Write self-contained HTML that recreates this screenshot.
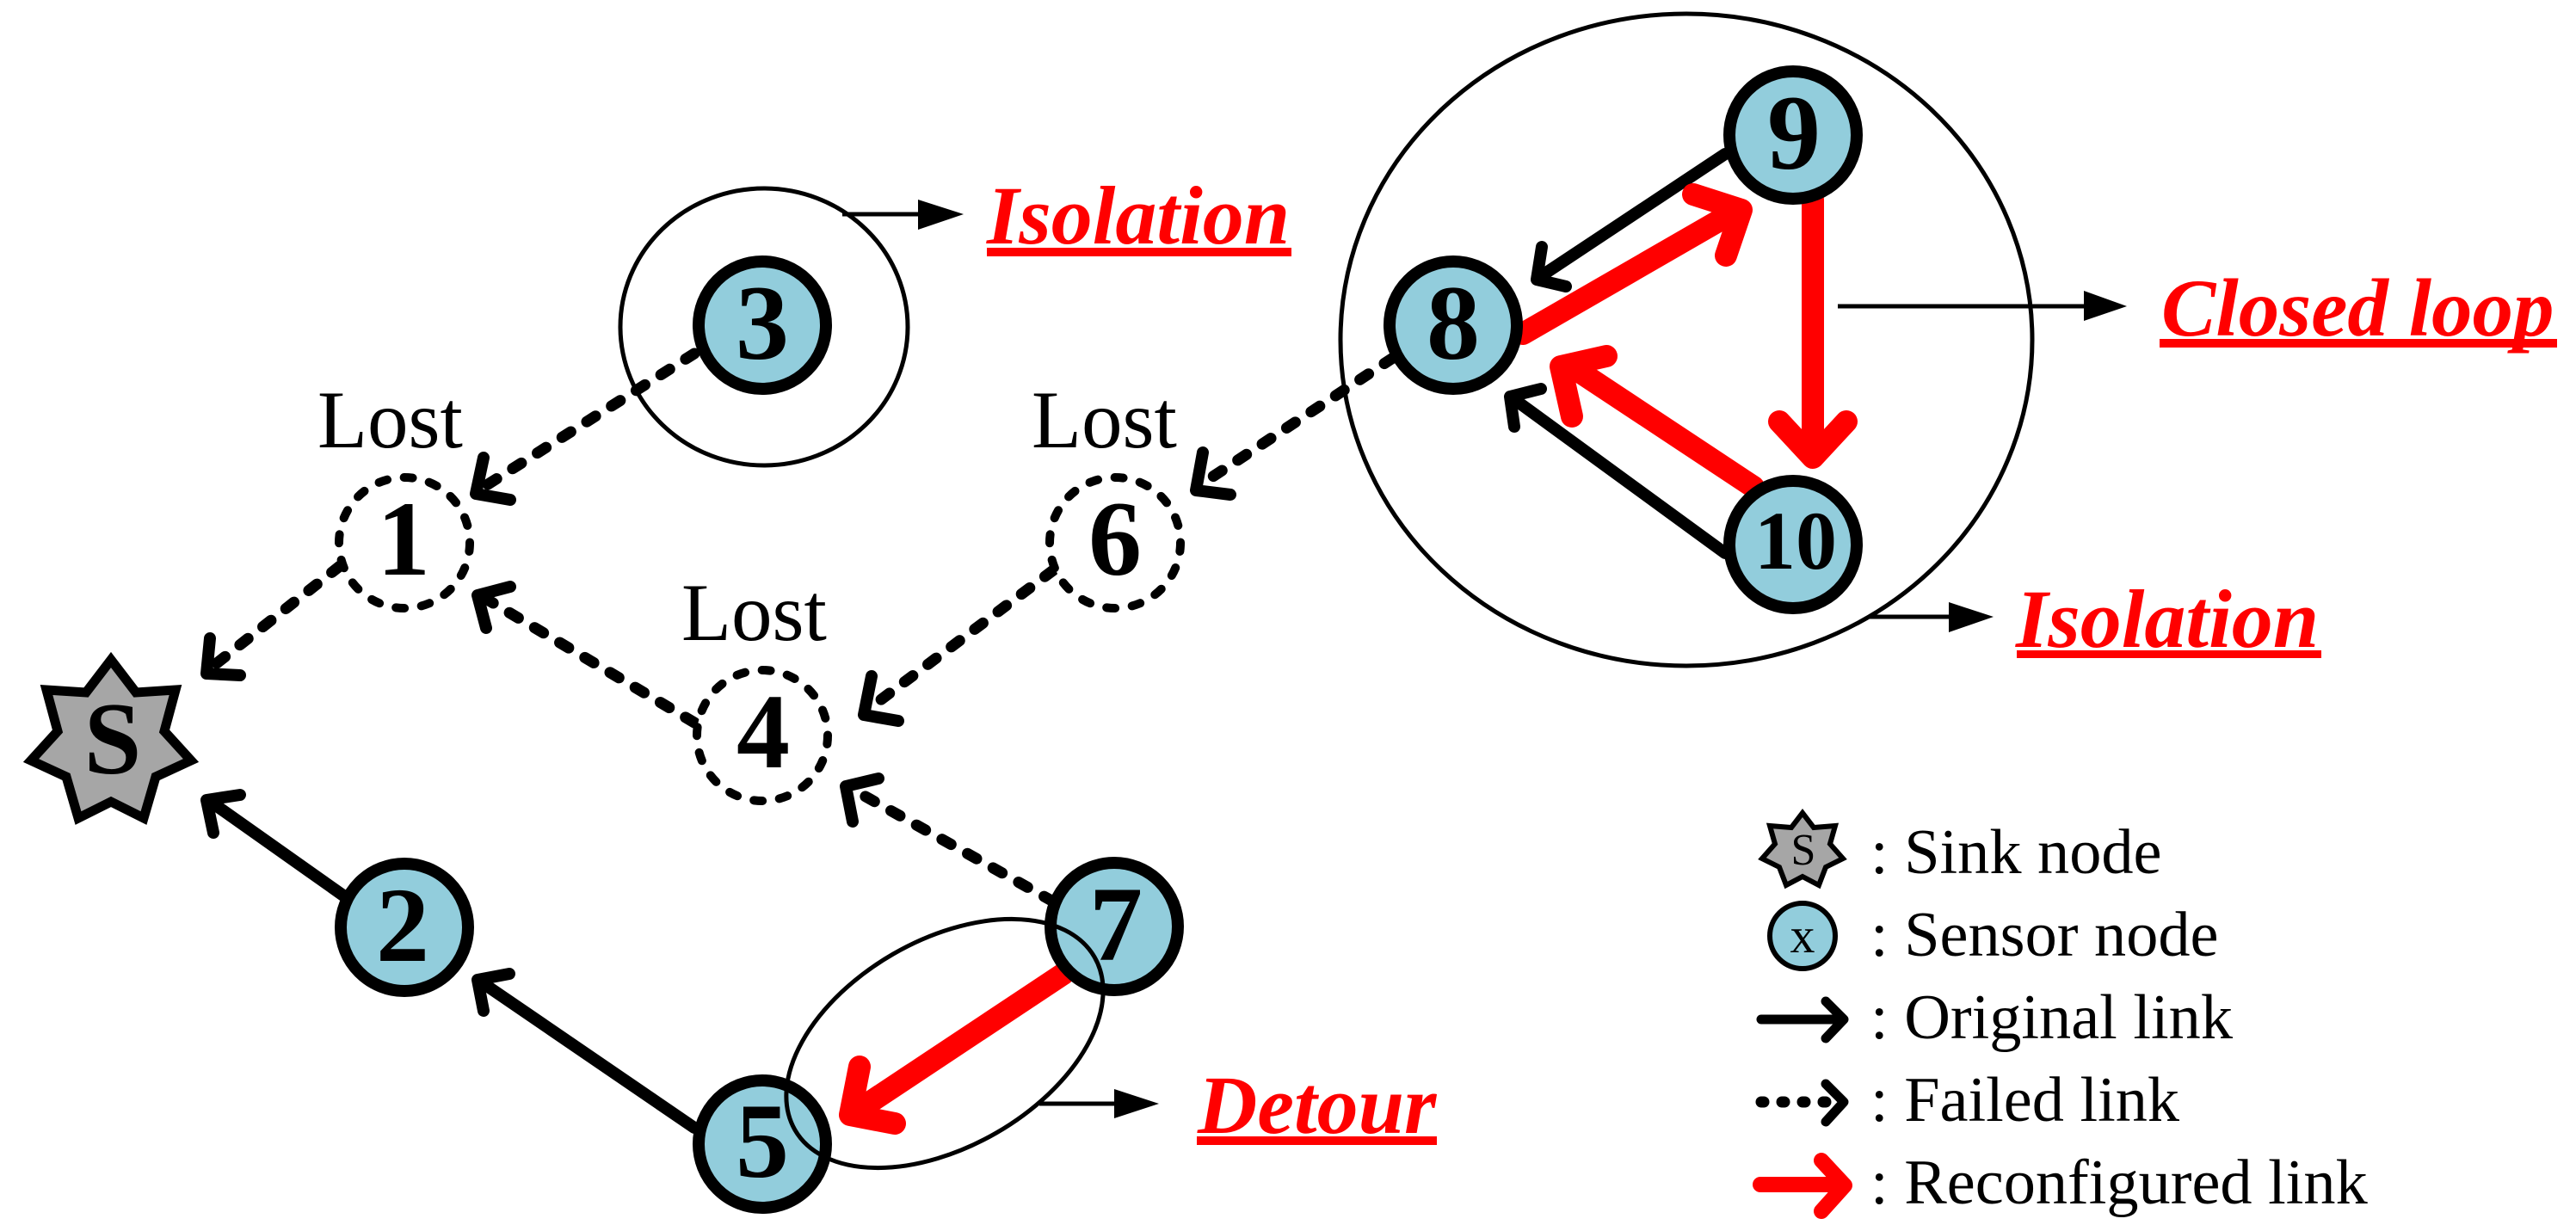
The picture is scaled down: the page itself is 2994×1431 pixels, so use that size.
<!DOCTYPE html>
<html><head><meta charset="utf-8"><title>Network diagram</title>
<style>
html,body{margin:0;padding:0;background:#fff}
svg{display:block}
.n{font:bold 124px "Liberation Serif",serif;text-anchor:middle;fill:#000}
.lost{font:95px "Liberation Serif",serif;fill:#000}
.lab{font:italic bold 96px "Liberation Serif",serif;fill:#f00}
.leg{font:74.3px "Liberation Serif",serif;fill:#000}
.ln{fill:none;stroke:#000;stroke-linecap:round;stroke-linejoin:round}
.b{stroke-width:14}
.d{stroke-width:13;stroke-dasharray:12 22}
.r{fill:none;stroke:#f00;stroke-linecap:round;stroke-linejoin:round;stroke-width:26}
.node{fill:#92CDDC;stroke:#000;stroke-width:14}
.dash{fill:#fff;stroke:#000;stroke-width:10;stroke-dasharray:10 19.8;stroke-linecap:round}
.thin{fill:none;stroke:#000;stroke-width:5}
.ptr{fill:none;stroke:#000;stroke-width:5}
</style></head>
<body>
<svg xmlns="http://www.w3.org/2000/svg" width="2994" height="1431" viewBox="0 0 2994 1431">
<rect width="2994" height="1431" fill="#fff"/>

<!-- big enclosing circles -->
<ellipse class="thin" cx="1960" cy="395" rx="402" ry="379"/>
<ellipse class="thin" cx="888" cy="380" rx="167" ry="161"/>

<!-- failed links -->
<g class="ln d">
<line x1="807" y1="411" x2="556" y2="570"/>
<line x1="395" y1="658" x2="243" y2="778"/>
<line x1="807" y1="840" x2="558" y2="692"/>
<line x1="1224" y1="663" x2="1007" y2="826"/>
<line x1="1619" y1="416" x2="1393" y2="565"/>
<line x1="1224" y1="1048" x2="990" y2="917"/>
</g>
<g class="ln" style="stroke-width:14">
<polyline points="562,532 553,574 593,581"/>
<polyline points="244,742 240,783 279,785"/>
<polyline points="593,682 555,692 565,730"/>
<polyline points="1013,786 1004,831 1044,838"/>
<polyline points="1398,526 1390,570 1430,575"/>
<polyline points="1021,905 983,914 991,955"/>
</g>

<!-- original links -->
<g class="ln b">
<line x1="399" y1="1041" x2="242" y2="930"/>
<polyline points="279,924 240,930 248,968"/>
<line x1="807" y1="1311" x2="557" y2="1140"/>
<polyline points="592,1132 555,1139 562,1175"/>
<line x1="2005" y1="179" x2="1788" y2="323"/>
<polyline points="1792,287 1786,325 1820,333"/>
<line x1="2005" y1="643" x2="1757" y2="462"/>
<polyline points="1791,452 1755,461 1760,496"/>
</g>

<!-- reconfigured links -->
<g class="r">
<line x1="1770" y1="388" x2="2018" y2="245"/>
<polyline points="1968,226 2024,244 2006,297"/>
<line x1="2107" y1="232" x2="2107" y2="530"/>
<polyline points="2068,490 2107,532 2146,490"/>
<line x1="2038" y1="566" x2="1825" y2="425"/>
<polyline points="1867,414 1814,426 1827,484"/>
<line x1="1236" y1="1132" x2="995" y2="1292"/>
<polyline points="999,1240 988,1296 1040,1306"/>
</g>

<!-- S star -->
<polygon points="129,767 158,805 204,802 191,850 222,884 181,903 167,951 129,932 91,951 77,903 36,884 67,850 54,802 100,805" fill="#A6A6A6" stroke="#000" stroke-width="11" stroke-linejoin="miter" stroke-miterlimit="4"/>
<text class="n" x="131" y="899" style="font-size:120px">S</text>

<!-- dashed lost nodes -->
<circle class="dash" cx="470" cy="631" r="76"/>
<circle class="dash" cx="886" cy="855" r="76"/>
<circle class="dash" cx="1296" cy="631" r="76"/>
<text class="n" x="469" y="668">1</text>
<text class="n" x="887" y="892">4</text>
<text class="n" x="1296" y="668">6</text>

<!-- sensor nodes -->
<circle class="node" cx="470" cy="1078" r="74"/>
<circle class="node" cx="886" cy="378" r="74"/>
<circle class="node" cx="886" cy="1330" r="74"/>
<circle class="node" cx="1295" cy="1077" r="74"/>
<circle class="node" cx="1689" cy="378" r="74"/>
<circle class="node" cx="2084" cy="157" r="74"/>
<circle class="node" cx="2084" cy="633" r="74"/>
<text class="n" x="468" y="1117">2</text>
<text class="n" x="886" y="417">3</text>
<text class="n" x="886" y="1368">5</text>
<text class="n" x="1297" y="1116">7</text>
<text class="n" x="1689" y="417">8</text>
<text class="n" x="2085" y="196">9</text>
<text class="n" x="2087" y="661" style="font-size:96px">10</text>

<!-- detour ellipse -->
<ellipse class="thin" cx="1098" cy="1213" rx="201" ry="120" transform="rotate(-30 1098 1213)"/>

<!-- Lost labels -->
<text class="lost" x="369" y="520">Lost</text>
<text class="lost" x="1199" y="520">Lost</text>
<text class="lost" x="792" y="744">Lost</text>

<!-- pointers -->
<line class="ptr" x1="979" y1="249" x2="1070" y2="249"/>
<polygon points="1067,232 1120,249 1067,267" fill="#000"/>
<line class="ptr" x1="2136" y1="356" x2="2425" y2="356"/>
<polygon points="2422,338 2472,356 2422,373" fill="#000"/>
<line class="ptr" x1="2172" y1="717" x2="2268" y2="717"/>
<polygon points="2265,700 2317,717 2265,735" fill="#000"/>
<line class="ptr" x1="1208" y1="1283" x2="1298" y2="1283"/>
<polygon points="1295,1266 1347,1283 1295,1300" fill="#000"/>

<!-- red labels -->
<text class="lab" x="1147" y="283">Isolation</text>
<rect x="1147" y="288" width="354" height="10" fill="#f00"/>
<text class="lab" x="2512" y="390" style="font-size:95px">Closed loop</text>
<rect x="2510" y="394" width="462" height="10" fill="#f00"/>
<text class="lab" x="2343" y="752">Isolation</text>
<rect x="2344" y="756" width="354" height="9" fill="#f00"/>
<text class="lab" x="1392" y="1317">Detour</text>
<rect x="1391" y="1321" width="279" height="10" fill="#f00"/>

<!-- legend -->
<polygon points="2095,945 2108,962 2133,960 2127,981 2142,998 2122,1008 2114,1029 2095,1019 2076,1029 2068,1008 2048,998 2063,981 2057,960 2082,962" fill="#A6A6A6" stroke="#000" stroke-width="6" stroke-linejoin="miter" stroke-miterlimit="3"/>
<text x="2096" y="1005" style="font:52px 'Liberation Serif',serif;text-anchor:middle">S</text>
<circle cx="2095" cy="1088" r="38" fill="#92CDDC" stroke="#000" stroke-width="6"/>
<text x="2095" y="1107" style="font:58px 'Liberation Serif',serif;text-anchor:middle">x</text>

<g class="ln" style="stroke-width:11">
<line x1="2047" y1="1185" x2="2142" y2="1185"/>
<polyline points="2122,1164 2143,1185 2122,1207"/>
<line x1="2047" y1="1281" x2="2130" y2="1281" style="stroke-width:13;stroke-dasharray:3 21"/>
<polyline points="2122,1260 2143,1281 2122,1304"/>
</g>
<g class="r" style="stroke-width:18">
<line x1="2046" y1="1377" x2="2138" y2="1377"/>
<polyline points="2117,1349 2144,1378 2117,1408"/>
</g>

<text class="leg" x="2174" y="1015">: Sink node</text>
<text class="leg" x="2174" y="1111">: Sensor node</text>
<text class="leg" x="2174" y="1207">: Original link</text>
<text class="leg" x="2174" y="1303">: Failed link</text>
<text class="leg" x="2174" y="1399">: Reconfigured link</text>
</svg>
</body></html>
